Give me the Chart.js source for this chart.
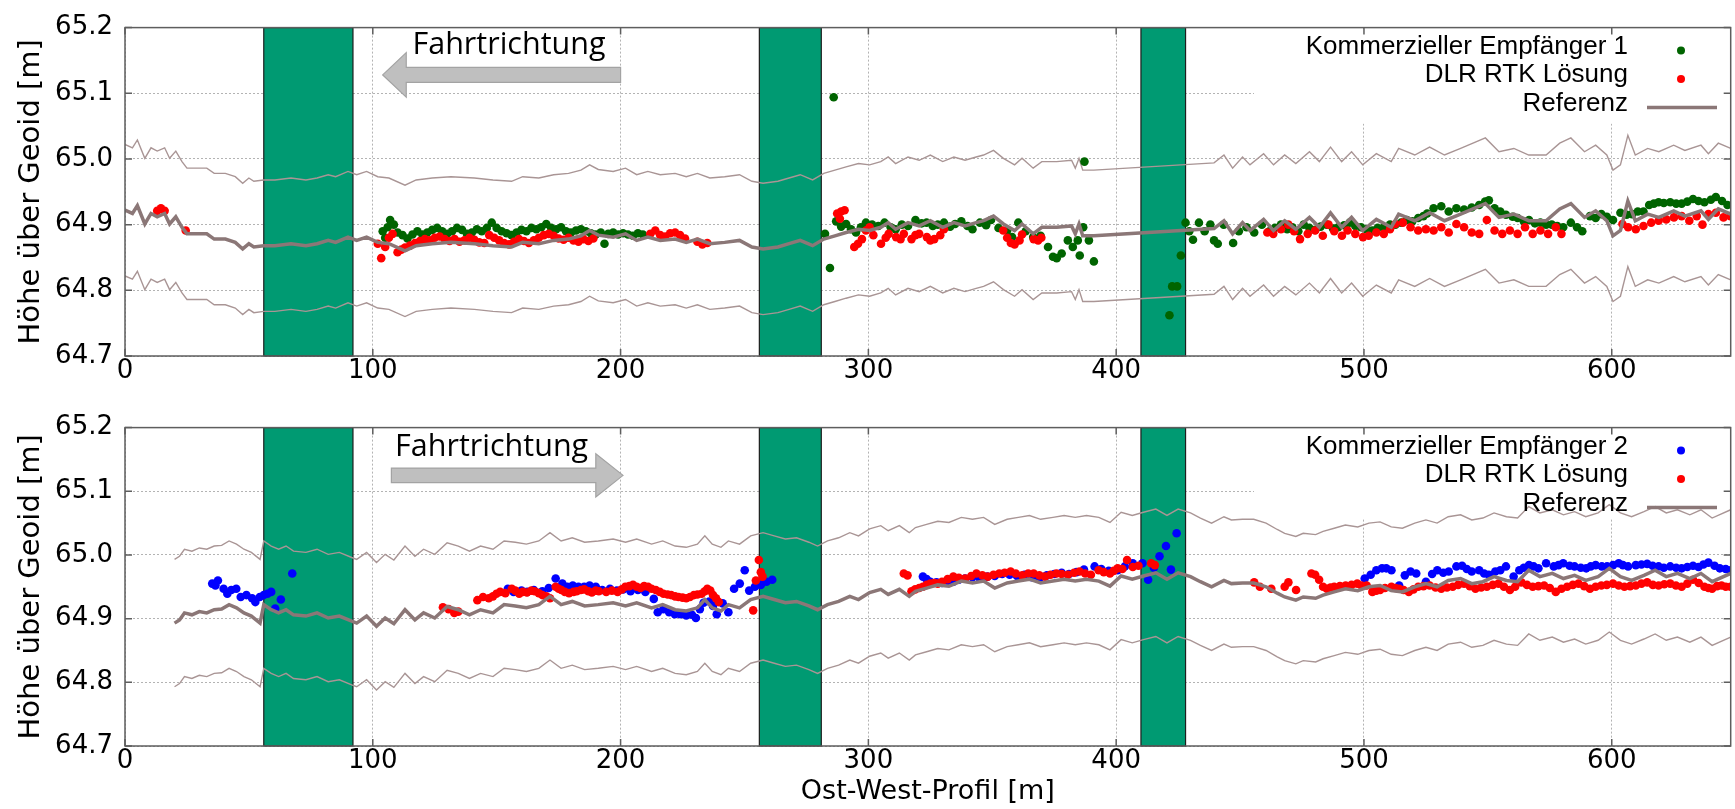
<!DOCTYPE html>
<html>
<head>
<meta charset="utf-8">
<script src="https://cdn.jsdelivr.net/npm/chart.js@4.4.1/dist/chart.umd.min.js"></script>
<style>
  html, body { margin: 0; padding: 0; background: #fff; overflow: hidden; }
  #wrap { position: relative; width: 1735px; height: 809px; }
  canvas { position: absolute; left: 0; }
  #top { top: 0; }
  #bottom { top: 400px; }
</style>
</head>
<body>
<div id="wrap">
  <canvas id="top" width="1735" height="400"></canvas>
  <canvas id="bottom" width="1735" height="409"></canvas>
</div>
<script>
// ---- data (x = Ost-West-Profil [m], y = Höhe [m]) ----

// blocked sections (green bars), start / end in m
const bandStart = [56, 256, 410];
const bandEnd = [92, 281, 428];

// the thin envelope lines sit 10 cm above and below the reference
const TOL = 0.1;

// top panel: reference trajectory
const refTop = [
  [0,64.922],[3,64.917],[5,64.929],[8,64.901],[10.5,64.917],[13,64.912],[16,64.917],[18,64.901],[20.5,64.912],
  [23,64.896],[25,64.886],[30,64.886],[33,64.886],[36,64.878],[40.5,64.878],[44.5,64.873],[47.5,64.863],[50,64.871],
  [52,64.866],[56,64.868],[60.5,64.868],[67,64.871],[73,64.868],[77.5,64.871],[82,64.876],[85,64.873],[90,64.881],
  [93.5,64.876],[97.5,64.881],[102,64.873],[106.5,64.871],[113,64.86],[117.5,64.868],[124,64.871],[131.5,64.873],
  [141,64.871],[148.5,64.868],[156,64.866],[160.5,64.873],[167,64.871],[173,64.876],[179,64.878],[184,64.883],
  [187.5,64.891],[191,64.884],[197,64.881],[202,64.886],[206.5,64.876],[211,64.881],[216,64.876],[222,64.878],
  [226.5,64.873],[231,64.878],[236,64.871],[242,64.873],[248,64.876],[253,64.866],[257.5,64.863],[263.5,64.866],
  [268,64.871],[272.5,64.876],[277.5,64.868],[282,64.878],[286.5,64.883],[291,64.888],[296,64.893],[300.5,64.891],
  [305,64.896],[308,64.903],[311,64.893],[316,64.903],[320.5,64.898],[325,64.906],[330,64.896],[334.5,64.903],
  [339,64.898],[343.5,64.903],[346.5,64.906],[350.5,64.913],[354.5,64.901],[359,64.891],[362,64.901],[366.5,64.886],
  [370,64.896],[376,64.896],[382,64.898],[383.5,64.886],[385,64.901],[386.5,64.883],[391,64.883],[439.5,64.894],
  [443.5,64.906],[447,64.886],[451,64.903],[454,64.891],[459.5,64.908],[463.5,64.891],[468,64.906],[472.5,64.893],
  [478,64.911],[482,64.896],[486.5,64.918],[491,64.896],[495,64.911],[499.5,64.891],[505,64.908],[511,64.896],
  [514,64.916],[520.5,64.906],[526.5,64.918],[532.5,64.906],[539,64.916],[544,64.924],[549,64.932],[554.5,64.911],
  [560.5,64.916],[566.5,64.906],[573.5,64.906],[579,64.924],[583.5,64.932],[589,64.911],[593.5,64.921],[598,64.906],
  [600.5,64.883],[603.5,64.891],[606.5,64.936],[609.5,64.906],[614.5,64.916],[619,64.911],[625,64.921],[629.5,64.913],
  [636,64.921],[639,64.908],[643,64.924],[648,64.916]
];

// top panel: Kommerzieller Empfänger 1
const rx1Top = [
  [104,64.890],[105,64.880],[106,64.896],[107,64.907],[108.5,64.900],[110,64.888],[112,64.884],[114,64.879],[116,64.885],
  [118,64.890],[120,64.885],[122,64.888],[124,64.892],[126,64.895],[128,64.890],[130,64.886],[132,64.890],[134,64.895],
  [136,64.892],[138,64.886],[140,64.888],[142,64.893],[144,64.890],[146,64.895],[148,64.903],[150,64.895],[152,64.890],
  [154,64.887],[156,64.884],[158,64.888],[160,64.892],[162,64.890],[164,64.895],[166,64.893],[168,64.896],[170,64.901],
  [172,64.895],[174,64.893],[176,64.896],[178,64.890],[180,64.888],[182,64.891],[184,64.893],[186,64.890],[188,64.887],
  [190,64.885],[192,64.888],[193.5,64.871],[195,64.886],[197,64.888],[199,64.885],[201,64.887],[203,64.885],[205,64.883],
  [207,64.887],[209,64.885],
  [284.5,64.834],[286,65.094],
  [282.5,64.886],[287,64.905],[289,64.897],[291,64.901],[293,64.893],[295,64.888],[297,64.896],[299,64.903],[301.5,64.900],
  [304,64.898],[306.5,64.903],[309,64.896],[311,64.893],[313.5,64.900],[316,64.898],[319,64.907],[321.5,64.902],
  [323.5,64.903],[326,64.898],[328,64.900],[330.5,64.903],[333,64.897],[335,64.901],[337.5,64.905],[340,64.898],
  [342,64.893],[345,64.903],[347.5,64.899],[349.5,64.907],[352.5,64.895],[356,64.891],[358,64.881],[360.5,64.903],
  [363.5,64.890],[366.5,64.881],[369.5,64.883],[372.5,64.866],[374.5,64.851],[376,64.849],[378,64.856],[380.5,64.876],
  [382.5,64.866],[384.5,64.876],[385.3,64.853],[386.7,64.896],[387.2,64.996],[389,64.876],[391,64.844],
  [421.5,64.762],[422.6,64.806],[424.6,64.806],[426.1,64.853],[428,64.903],[429.5,64.890],[431,64.877],[433.4,64.903],
  [435.7,64.890],[438,64.900],[439.5,64.876],[441,64.871],[443.4,64.900],[447.2,64.872],[449.5,64.890],[452.6,64.896],
  [455.7,64.888],[458.8,64.900],[461.8,64.890],[464,64.895],[466.5,64.900],[469,64.893],[471.1,64.896],[473.5,64.890],
  [475.7,64.900],[478,64.895],[480.3,64.892],[482.5,64.897],[485,64.900],[487.5,64.894],[489.6,64.896],[492,64.899],
  [494.2,64.903],[496.5,64.898],[498.8,64.896],[501,64.893],[503.4,64.891],[505.5,64.895],[508,64.896],[510.5,64.900],
  [512.7,64.900],[515,64.903],[517.3,64.907],[519.5,64.905],[521.9,64.910],[524,64.913],[525.5,64.917],[528.1,64.925],
  [531.2,64.928],[534.2,64.920],[537.3,64.925],[540.4,64.923],[543.5,64.926],[546.5,64.930],[548.9,64.935],[550.4,64.937],
  [552.7,64.925],[555,64.920],[557.3,64.915],[560,64.912],[562,64.910],[564.5,64.905],[566.6,64.907],[569,64.902],
  [571.2,64.903],[573.5,64.900],[575.8,64.900],[578,64.898],[580.4,64.896],[583.5,64.903],[586,64.896],[588.1,64.890],
  [591.2,64.913],[593.5,64.910],[595.8,64.916],[598,64.912],[600.5,64.907],[603.5,64.918],[606,64.915],[608.2,64.916],
  [610.5,64.920],[612.8,64.920],[615.1,64.930],[617,64.932],[618.9,64.934],[621,64.933],[623.6,64.934],[626,64.932],
  [628.2,64.932],[630.5,64.935],[632.8,64.939],[635,64.936],[637.4,64.934],[640,64.938],[642,64.942],[644.5,64.936],
  [646.7,64.930]
];

// top panel: DLR RTK Lösung
const rtkTop = [
  [13,64.921],[14.5,64.925],[16,64.921],[24.5,64.891],
  [102,64.871],[103.4,64.849],[105,64.866],[106.5,64.880],[108,64.886],[110,64.858],[111.5,64.862],[113,64.865],
  [115,64.868],[117,64.872],[119,64.875],[121,64.878],[123,64.876],[125,64.880],[127,64.882],[129,64.878],[131,64.875],
  [133,64.878],[135,64.874],[137,64.876],[139,64.880],[141,64.877],[143,64.873],[145,64.872],[147,64.884],[149,64.880],
  [151,64.876],[153,64.872],[155,64.870],[157,64.874],[159,64.878],[161,64.875],[163,64.872],[165,64.876],[167,64.880],
  [169,64.884],[171,64.886],[173,64.883],[175,64.879],[177,64.877],[179,64.880],[181,64.876],[183,64.874],[185,64.878],
  [187,64.875],[189,64.879],
  [212,64.886],[214,64.891],[216,64.884],[218,64.882],[220,64.887],[222,64.888],[224,64.884],[226,64.879],[231,64.874],
  [233,64.870],[235,64.872],
  [287.4,64.917],[288.5,64.909],[289,64.920],[290.4,64.922],[294.3,64.866],[295.8,64.871],[297.4,64.878],[299,64.891],
  [300.5,64.896],[302,64.884],[305.1,64.871],[307,64.880],[308.2,64.886],[311.2,64.881],[313,64.878],[314.3,64.886],
  [317.4,64.878],[319,64.884],[320.5,64.886],[323.6,64.881],[325,64.876],[326.6,64.878],[329,64.884],[330.5,64.893],
  [354.4,64.891],[356,64.880],[357.5,64.872],[359,64.870],[361,64.876],[362,64.885],[366.7,64.878],[368.5,64.876],
  [369.8,64.880],
  [461,64.888],[463.4,64.886],[466.5,64.893],[469.5,64.900],[471.8,64.890],[474.2,64.878],[477.3,64.886],[480.3,64.891],
  [483.4,64.883],[485.7,64.900],[488,64.890],[491.1,64.883],[493.4,64.891],[496.5,64.886],[499.6,64.881],[501.9,64.883],
  [505,64.888],[508,64.886],[510.5,64.893],[512.7,64.901],[515.7,64.903],[518.8,64.896],[521.9,64.891],[525,64.893],
  [528.1,64.891],[531.2,64.896],[534.2,64.888],[537.3,64.901],[540.4,64.896],[543.5,64.888],[546.5,64.886],[549.6,64.907],
  [552.7,64.891],[555.8,64.886],[558.9,64.891],[562,64.886],[565,64.896],[568.1,64.886],[571.2,64.891],[574.3,64.886],
  [577.4,64.896],[579.7,64.886],
  [604.3,64.901],[606.6,64.896],[609.7,64.893],[612.8,64.898],[615.9,64.903],[618.9,64.906],[622,64.908],[625.1,64.911],
  [628.2,64.913],[631.3,64.906],[634.3,64.913],[636.6,64.900],[639,64.916],[642,64.918],[645.1,64.911],[647.9,64.913]
];

// bottom panel: reference trajectory
const refBottom = [
  [20,64.893],[22,64.898],[24,64.909],[27,64.906],[30,64.911],[33,64.909],[36,64.914],[39,64.915],[42,64.922],
  [45,64.917],[48,64.909],[51,64.904],[54.5,64.893],[56,64.922],[59,64.914],[62,64.909],[65,64.914],[68,64.906],
  [73,64.904],[77.5,64.909],[82,64.901],[86.5,64.904],[91.5,64.896],[93.5,64.893],[97.5,64.904],[101.5,64.888],
  [105,64.901],[108.5,64.892],[113,64.914],[117,64.898],[120.5,64.909],[125,64.901],[130,64.919],[134.5,64.914],
  [139,64.906],[143.5,64.914],[148.5,64.909],[153,64.922],[157.5,64.92],[162,64.917],[167,64.922],[171.5,64.935],
  [176,64.922],[180.5,64.927],[185.5,64.92],[191,64.922],[197,64.925],[202,64.92],[206.5,64.925],[212.5,64.917],
  [217,64.922],[222,64.914],[226.5,64.912],[231,64.917],[234,64.93],[237,64.917],[240.5,64.912],[243.5,64.922],
  [248,64.917],[252.5,64.93],[257.5,64.935],[262,64.93],[266.5,64.925],[271,64.927],[276,64.92],[279.5,64.914],
  [283.5,64.922],[288,64.927],[292.5,64.935],[296,64.93],[300.5,64.941],[305,64.946],[308,64.938],[312.5,64.946],
  [316.5,64.935],[319,64.943],[323.5,64.948],[328,64.953],[332.5,64.951],[337.5,64.959],[342,64.956],[346.5,64.959],
  [351,64.948],[356,64.956],[360.5,64.959],[365,64.962],[369.5,64.956],[374.5,64.959],[379,64.962],[383.5,64.959],
  [388,64.962],[393,64.959],[397.5,64.951],[402,64.967],[406.5,64.962],[411,64.967],[416,64.972],[420.5,64.962],
  [425,64.972],[430,64.966],[434,64.958],[438.5,64.95],[443.5,64.96],[446.5,64.955],[451,64.956],[455.5,64.956],
  [460.5,64.95],[465,64.94],[468,64.934],[472.5,64.929],[475.5,64.934],[480.5,64.932],[483.5,64.937],[488,64.942],
  [492.5,64.947],[497.5,64.944],[502,64.95],[506.5,64.952],[511,64.944],[515.5,64.942],[520.5,64.95],[525,64.955],
  [529.5,64.95],[534,64.96],[539,64.963],[543.5,64.955],[548,64.958],[552.5,64.966],[557.5,64.96],[562,64.958],
  [566.5,64.976],[571,64.966],[576,64.971],[580.5,64.963],[585,64.968],[589.5,64.96],[594.5,64.966],[599,64.979],
  [603.5,64.966],[608,64.96],[613,64.968],[617.5,64.976],[622,64.966],[626.5,64.971],[631.5,64.963],[636,64.971],
  [640.5,64.958],[648,64.971]
];

// bottom panel: Kommerzieller Empfänger 2
const rx2Bottom = [
  [35.2,64.955],[36.5,64.952],[37.5,64.960],[39.8,64.947],[41.3,64.939],[42.9,64.945],[44.9,64.947],[46.7,64.934],
  [49,64.937],[51.3,64.932],[52.6,64.926],[54.4,64.934],[56,64.937],[57.5,64.939],[59,64.942],[60.6,64.916],[62.9,64.930],
  [67.5,64.971],
  [154.5,64.947],[156.8,64.942],[160,64.944],[162.3,64.942],[165,64.945],[168.4,64.943],[171,64.948],[173.8,64.963],
  [176.5,64.955],[178.5,64.950],[180.7,64.952],[183,64.950],[185.3,64.950],[187.5,64.952],[190,64.950],[192.6,64.945],
  [195.7,64.947],[198.5,64.944],[201,64.946],[204,64.943],[207,64.945],[210,64.942],[213.4,64.931],[215,64.910],
  [217.3,64.915],[219.6,64.910],[221.9,64.907],[224.2,64.907],[226.5,64.905],[228.8,64.906],[230.4,64.901],[232,64.915],
  [233.5,64.925],[235.8,64.927],[237.3,64.920],[238.8,64.907],[241.2,64.924],[243.5,64.910],[245.8,64.947],[248.1,64.955],
  [250.1,64.976],[251.9,64.944],[254.2,64.950],[256.6,64.953],[258.9,64.958],[261.2,64.961],
  [322,64.966],[323.5,64.962],[325,64.958],[327.5,64.957],[329.7,64.956],[332,64.957],[334.3,64.958],[336.5,64.961],
  [339,64.963],[342,64.965],[345,64.963],[348,64.966],[351,64.967],[354,64.970],[357,64.969],[360,64.967],[363,64.969],
  [366,64.965],[369,64.963],[372,64.968],[375,64.970],[378,64.972],[381,64.970],[384,64.973],[387,64.977],[391.3,64.982],
  [394,64.978],[397,64.975],[400.6,64.976],[403.5,64.982],[406.7,64.987],[410.6,64.987],[412.9,64.961],[415.2,64.980],
  [417.5,64.998],[420.1,65.014],[422.1,64.977],[424.4,65.034],
  [500.3,64.963],[502.7,64.969],[505,64.976],[507.3,64.979],[509,64.979],[511.1,64.976],[514.2,64.952],[516.5,64.968],
  [518.8,64.974],[521.1,64.971],[525,64.958],[527.5,64.970],[529.6,64.976],[532,64.972],[534.2,64.974],[537.3,64.982],
  [539.6,64.983],[541.5,64.978],[543.5,64.974],[546.5,64.976],[548.5,64.971],[550.4,64.969],[553,64.974],[555,64.976],
  [557.3,64.982],[560.4,64.966],[562.7,64.976],[564.5,64.980],[566.6,64.984],[568.5,64.982],[570.4,64.979],[573.5,64.987],
  [576.6,64.982],[578.5,64.984],[580.4,64.987],[583,64.983],[585,64.982],[587.5,64.980],[589.7,64.979],[591.5,64.982],
  [593.5,64.984],[596,64.982],[598.1,64.982],[600.5,64.984],[602.8,64.987],[604.5,64.984],[606.6,64.982],[609.7,64.984],
  [612,64.985],[614.3,64.986],[616.5,64.983],[618.9,64.982],[621,64.980],[623.6,64.982],[626,64.980],[628.2,64.979],
  [630.5,64.981],[632.8,64.983],[635,64.981],[637,64.985],[639,64.988],[641.5,64.983],[643.6,64.979],[646,64.978],
  [647.9,64.976]
];

// bottom panel: DLR RTK Lösung
const rtkBottom = [
  [128.3,64.918],[130.6,64.915],[132.9,64.909],[134.5,64.911],[142.2,64.929],[144.5,64.934],[146.8,64.932],[148.5,64.935],
  [149.9,64.939],[151.4,64.942],[153.5,64.940],[156.1,64.947],[157.5,64.944],[159.1,64.939],[160.5,64.942],[162.2,64.941],
  [164,64.944],[165.3,64.943],[167,64.940],[168.4,64.937],[170,64.935],[171.5,64.932],[173.8,64.950],[175,64.947],
  [176.1,64.945],[177.5,64.942],[179.2,64.940],[181,64.942],[182.3,64.943],[184,64.945],[185.3,64.946],[187,64.943],
  [188.4,64.941],[190,64.944],[191.2,64.943],[194.2,64.942],[196.5,64.944],[198.8,64.942],[200.5,64.946],[201.9,64.950],
  [203.5,64.951],[205,64.953],[206.5,64.950],[208,64.948],[209.5,64.951],[211.1,64.950],[212.5,64.947],[214.2,64.945],
  [215.8,64.942],[217.3,64.939],[219,64.938],[220.4,64.937],[222,64.935],[223.4,64.934],[225,64.933],[226.5,64.932],
  [228,64.934],[229.6,64.937],[231,64.938],[232.7,64.939],[234,64.943],[235,64.947],[236.2,64.944],[237.3,64.937],
  [238.5,64.932],[239.6,64.926],
  [253.5,64.913],[254.6,64.960],[255.8,64.992],[256.6,64.973],[257.3,64.966],
  [314.3,64.971],[315.8,64.968],
  [317.4,64.943],[318.9,64.946],[320.5,64.948],[322,64.950],[323.5,64.953],[325,64.955],[326.6,64.956],[328,64.955],
  [329.7,64.958],[332,64.962],[334.3,64.966],[336.5,64.964],[339,64.963],[341.5,64.967],[343.6,64.971],[346,64.968],
  [348.2,64.966],[350.5,64.969],[352.8,64.971],[355,64.972],[357.4,64.974],[359.5,64.971],[362.1,64.968],[364.5,64.971],
  [366.7,64.971],[369,64.968],[371.3,64.966],[373.5,64.969],[375.9,64.971],[378,64.970],[380.5,64.969],[383,64.972],
  [385.2,64.974],[387.5,64.971],[389.8,64.969],[392.9,64.976],[395,64.973],[397.5,64.971],[399,64.975],[400.6,64.979],
  [402.5,64.978],[404.4,64.992],[406.7,64.981],[409,64.983],
  [414.1,64.987],[415.6,64.984],
  [455.7,64.957],[458,64.950],[462.6,64.947],[468,64.950],[469.5,64.957],[472.6,64.945],[478.8,64.971],[480.3,64.969],
  [481.9,64.961],[483.5,64.950],[485,64.947],[486.5,64.949],[488,64.950],[490.3,64.951],[492.6,64.952],[495,64.953],
  [497.3,64.955],[499,64.952],[501.1,64.952],[503.4,64.942],[505,64.944],[506.5,64.945],[508.5,64.948],[511.1,64.950],
  [512.7,64.948],[514.2,64.947],[516,64.945],[518.1,64.942],[520,64.946],[521.9,64.950],[524,64.951],[526.5,64.952],
  [528.9,64.949],[531.2,64.947],[533.5,64.949],[535.8,64.950],[538,64.953],[540.4,64.955],[542.7,64.951],[545,64.947],
  [547.3,64.949],[549.6,64.950],[552,64.953],[554.3,64.955],[556.5,64.950],[558.9,64.945],[561,64.950],[563.5,64.957],
  [565.8,64.953],[568.1,64.950],[570.4,64.951],[572.7,64.952],[575,64.948],[577.4,64.942],[579.7,64.947],[582,64.950],
  [584.3,64.953],[586.6,64.955],[588.9,64.951],[591.2,64.947],[593.5,64.950],[595.8,64.952],[598,64.953],[600.5,64.955],
  [602.8,64.952],[605.1,64.950],[607.4,64.951],[609.7,64.952],[612,64.955],[614.3,64.957],[616.6,64.953],[618.9,64.952],
  [621.2,64.954],[623.6,64.955],[625.9,64.952],[628.2,64.950],[630.5,64.955],[632.8,64.961],[635.1,64.956],[637.4,64.950],
  [639,64.948],[640.5,64.947],[642.5,64.951],[644.3,64.952],[646,64.950],[647.9,64.950]
];

// ---- styling ----
const AXIS_FONT = '"DejaVu Sans", sans-serif';
const LEGEND_FONT = '"Liberation Sans", Arial, sans-serif';
const NOTE_FONT = '"Open Sans", sans-serif';
const REF_COLOR = '#8b7777';
const BOUND_COLOR = '#a99595';
const RTK_COLOR = '#ff0000';
const BAND_COLOR = '#009a72';

function pts(list) {
  return list.map(p => ({ x: p[0], y: p[1] }));
}
function offset(list, dy) {
  return list.map(p => ({ x: p[0], y: p[1] + dy }));
}

// bars, legend box, arrow, frame and legend drawn with the chart's own scales
const deco = {
  id: 'deco',
  beforeDatasetsDraw(chart, args, o) {
    const { ctx, chartArea: a, scales: { x, y } } = chart;
    ctx.save();
    // blocked sections
    for (let i = 0; i < bandStart.length; i++) {
      const l = x.getPixelForValue(bandStart[i]);
      const r = x.getPixelForValue(bandEnd[i]);
      ctx.fillStyle = BAND_COLOR;
      ctx.fillRect(l, a.top, r - l, a.bottom - a.top);
      ctx.strokeStyle = '#1e1e1e';
      ctx.lineWidth = 1.2;
      ctx.strokeRect(l, a.top, r - l, a.bottom - a.top);
    }
    // legend background
    ctx.fillStyle = '#fff';
    ctx.fillRect(o.boxLeft, a.top + 1, a.right - o.boxLeft, o.boxHeight);

    // direction arrow
    const ar = o.arrow;
    const px = v => x.getPixelForValue(v);
    const py = v => y.getPixelForValue(v);
    ctx.beginPath();
    ctx.moveTo(px(ar.tip), py(ar.y));
    ctx.lineTo(px(ar.base), py(ar.y + ar.head));
    ctx.lineTo(px(ar.base), py(ar.y + ar.shaft));
    ctx.lineTo(px(ar.tail), py(ar.y + ar.shaft));
    ctx.lineTo(px(ar.tail), py(ar.y - ar.shaft));
    ctx.lineTo(px(ar.base), py(ar.y - ar.shaft));
    ctx.lineTo(px(ar.base), py(ar.y - ar.head));
    ctx.closePath();
    ctx.fillStyle = '#bfbfbf';
    ctx.fill();
    ctx.strokeStyle = '#a3a3a3';
    ctx.lineWidth = 1.2;
    ctx.stroke();

    ctx.fillStyle = '#000';
    ctx.font = '30.5px ' + NOTE_FONT;
    ctx.textAlign = 'left';
    ctx.textBaseline = 'middle';
    ctx.fillText('Fahrtrichtung', px(ar.textX), py(ar.textY));
    ctx.restore();
  },
  afterDraw(chart, args, o) {
    const { ctx, chartArea: a, scales: { x, y } } = chart;
    ctx.save();
    // frame and inward tick marks
    ctx.strokeStyle = '#5e5e5e';
    ctx.lineWidth = 1.5;
    ctx.strokeRect(a.left, a.top, a.right - a.left, a.bottom - a.top);
    ctx.beginPath();
    x.ticks.forEach(t => {
      const p = x.getPixelForValue(t.value);
      ctx.moveTo(p, a.bottom); ctx.lineTo(p, a.bottom - 7);
      ctx.moveTo(p, a.top); ctx.lineTo(p, a.top + 7);
    });
    y.ticks.forEach(t => {
      const p = y.getPixelForValue(t.value);
      ctx.moveTo(a.left, p); ctx.lineTo(a.left + 7, p);
      ctx.moveTo(a.right, p); ctx.lineTo(a.right - 7, p);
    });
    ctx.stroke();

    // legend: right aligned text, symbol to its right
    ctx.font = '26px ' + LEGEND_FONT;
    ctx.textAlign = 'right';
    ctx.textBaseline = 'middle';
    o.legend.forEach((item, i) => {
      const ty = a.top + o.rowTop + i * o.rowGap;
      ctx.fillStyle = '#000';
      ctx.fillText(item.label, o.textRight, ty);
      const my = ty + 4;
      if (item.kind === 'line') {
        ctx.strokeStyle = item.color;
        ctx.lineWidth = 3.5;
        ctx.beginPath();
        ctx.moveTo(o.markX - 34, my);
        ctx.lineTo(o.markX + 36, my);
        ctx.stroke();
      } else {
        ctx.fillStyle = item.color;
        ctx.beginPath();
        ctx.arc(o.markX, my, 4, 0, Math.PI * 2);
        ctx.fill();
      }
    });
    ctx.restore();
  }
};

function panel(id, cfg) {
  const tickFont = { family: AXIS_FONT, size: 26 };
  return new Chart(document.getElementById(id), {
    type: 'scatter',
    data: {
      datasets: [
        { label: 'Referenz', data: pts(cfg.ref), showLine: true, borderColor: REF_COLOR, borderWidth: 3.5,
          pointRadius: 0, order: 0 },
        { label: 'upper', data: offset(cfg.ref, TOL), showLine: true, borderColor: BOUND_COLOR, borderWidth: 1.4,
          pointRadius: 0, order: 3 },
        { label: 'lower', data: offset(cfg.ref, -TOL), showLine: true, borderColor: BOUND_COLOR, borderWidth: 1.4,
          pointRadius: 0, order: 3 },
        { label: 'DLR RTK Lösung', data: pts(cfg.rtk), backgroundColor: RTK_COLOR, borderWidth: 0,
          pointRadius: 4.3, order: 1 },
        { label: cfg.rxLabel, data: pts(cfg.rx), backgroundColor: cfg.rxColor, borderWidth: 0,
          pointRadius: 4.3, order: 2 }
      ]
    },
    options: {
      responsive: false,
      animation: false,
      devicePixelRatio: 1,
      layout: { padding: { top: 27, left: 0, right: 0, bottom: 0 } },
      plugins: {
        legend: { display: false },
        tooltip: { enabled: false },
        deco: {
          boxLeft: 1254, boxHeight: cfg.boxHeight, textRight: 1628, markX: 1681, rowTop: 19, rowGap: 28.5,
          arrow: cfg.arrow,
          legend: [
            { label: cfg.rxLabel, kind: 'dot', color: cfg.rxColor },
            { label: 'DLR RTK Lösung', kind: 'dot', color: RTK_COLOR },
            { label: 'Referenz', kind: 'line', color: REF_COLOR }
          ]
        }
      },
      scales: {
        x: {
          type: 'linear', min: 0, max: 648,
          afterFit: s => { s.height = cfg.xHeight; },
          ticks: { stepSize: 100, includeBounds: false, padding: 0, maxRotation: 0, color: '#000', font: tickFont },
          grid: { color: '#b3b3b3', lineWidth: 1, drawTicks: false },
          border: { display: false, dash: [2, 2] },
          title: cfg.xTitle
            ? { display: true, text: cfg.xTitle, color: '#000', font: { family: AXIS_FONT, size: 27 },
                padding: { top: 0, bottom: 1 } }
            : { display: false }
        },
        y: {
          min: 64.7, max: 65.2,
          afterFit: s => { s.width = 125; },
          ticks: { stepSize: 0.1, padding: 12, color: '#000', font: tickFont, callback: v => v.toFixed(1) },
          grid: { color: '#b3b3b3', lineWidth: 1, drawTicks: false },
          border: { display: false, dash: [2, 2] },
          title: { display: true, text: 'Höhe über Geoid [m]', color: '#000', font: { family: AXIS_FONT, size: 29 },
                   padding: { top: 14, bottom: 0 } }
        }
      }
    },
    plugins: [deco]
  });
}

panel('top', {
  ref: refTop, rtk: rtkTop, rx: rx1Top,
  rxLabel: 'Kommerzieller Empfänger 1', rxColor: '#006400',
  xHeight: 44, boxHeight: 95,
  arrow: { tip: 104, base: 113.5, tail: 200, y: 65.128, shaft: 0.0115, head: 0.034, textX: 116, textY: 65.173 }
});

panel('bottom', {
  ref: refBottom, rtk: rtkBottom, rx: rx2Bottom,
  rxLabel: 'Kommerzieller Empfänger 2', rxColor: '#0000ff',
  xHeight: 63, boxHeight: 90, xTitle: 'Ost-West-Profil [m]',
  arrow: { tip: 201, base: 190, tail: 107.5, y: 65.125, shaft: 0.0115, head: 0.034, textX: 109, textY: 65.169 }
});
</script>
</body>
</html>
